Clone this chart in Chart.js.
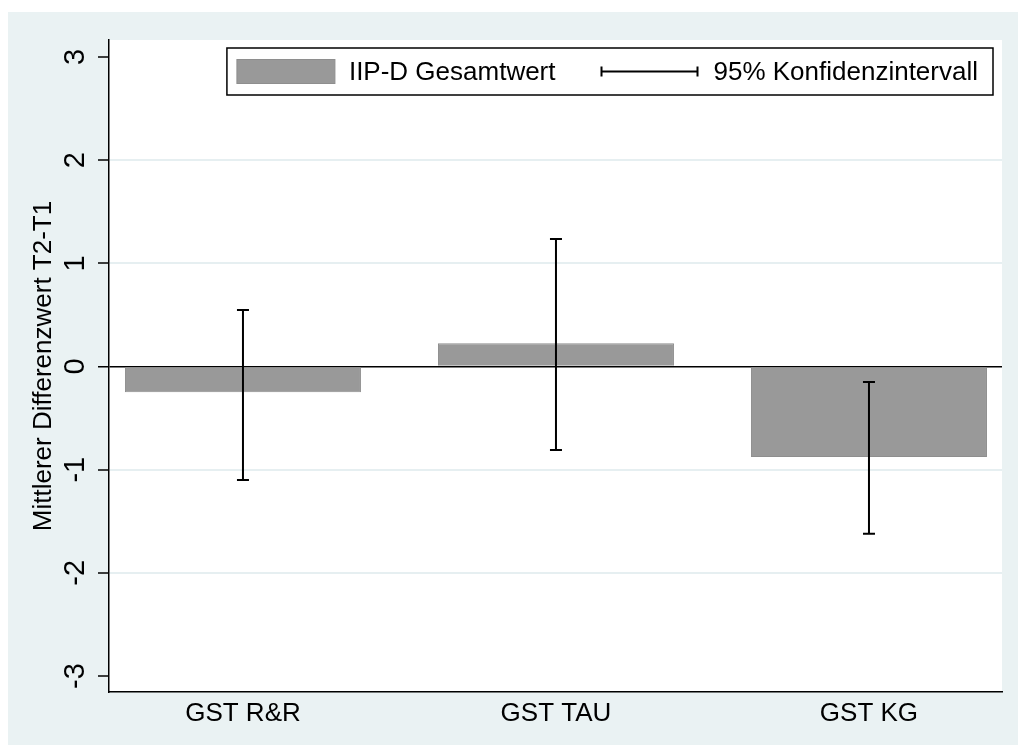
<!DOCTYPE html>
<html>
<head>
<meta charset="utf-8">
<script src="https://cdn.jsdelivr.net/npm/chart.js@4.4.1/dist/chart.umd.min.js"></script>
<style>
    html, body { margin: 0; padding: 0; background: #ffffff; }
    #wrap { position: absolute; left: 8px; top: 12px; width: 1010px; height: 733px; background: #eaf2f3; }
</style>
</head>
<body>
<div id="wrap"><canvas id="diffChart"></canvas></div>
<script>
// Mittlere Differenz T2-T1 je Gruppe, mit 95% KI
var categories = ['GST R&R', 'GST TAU', 'GST KG'];
var meanDiff = [-0.25, 0.225, -0.877];
var ciLower = [-1.10, -0.81, -1.62];
var ciUpper = [0.548, 1.236, -0.15];
var yTicks = [-3, -2, -1, 0, 1, 2, 3];

var barLabel = 'IIP-D Gesamtwert';
var ciLabel = '95% Konfidenzintervall';
var yTitle = 'Mittlerer Differenzwert T2-T1';

var fontFamily = "'Liberation Sans', Arial, sans-serif";
var fontSize = 26;
var barFill = '#999999';
var barEdge = '#8e8e8e';

// white plot region
var plotBackground = {
    id: 'plotBackground',
    beforeDraw: function (chart) {
        var a = chart.chartArea, ctx = chart.ctx;
        ctx.save();
        ctx.fillStyle = '#ffffff';
        ctx.fillRect(a.left, a.top, a.right - a.left, a.bottom - a.top);
        ctx.restore();
    }
};

// error bars + legend box
var ciBars = {
    id: 'ciBars',
    afterDatasetsDraw: function (chart) {
        var ctx = chart.ctx, xs = chart.scales.x, ys = chart.scales.y;
        ctx.save();
        ctx.strokeStyle = '#000000';
        ctx.lineWidth = 2;
        for (var i = 0; i < categories.length; i++) {
            var x = xs.getPixelForValue(i + 1);
            var y1 = ys.getPixelForValue(ciLower[i]);
            var y2 = ys.getPixelForValue(ciUpper[i]);
            ctx.beginPath();
            ctx.moveTo(x, y1); ctx.lineTo(x, y2);
            ctx.moveTo(x - 6, y1); ctx.lineTo(x + 6, y1);
            ctx.moveTo(x - 6, y2); ctx.lineTo(x + 6, y2);
            ctx.stroke();
        }
        ctx.restore();
    },
    afterDraw: function (chart) {
        var a = chart.chartArea, ctx = chart.ctx;
        ctx.save();
        ctx.font = fontSize + 'px ' + fontFamily;
        var w1 = ctx.measureText(barLabel).width;
        var w2 = ctx.measureText(ciLabel).width;
        var boxW = 10 + 98 + 14 + w1 + 46 + 96 + 16 + w2 + 15;
        var right = a.right - 9, top = a.top + 8, h = 47;
        var left = right - boxW;
        ctx.fillStyle = '#ffffff';
        ctx.fillRect(left, top, boxW, h);
        ctx.strokeStyle = '#000000';
        ctx.lineWidth = 1.5;
        ctx.strokeRect(left, top, boxW, h);
        var cy = top + h / 2;
        // bar swatch
        ctx.fillStyle = barFill;
        ctx.fillRect(left + 10, cy - 12, 98, 24);
        ctx.strokeStyle = barEdge;
        ctx.lineWidth = 1;
        ctx.strokeRect(left + 10, cy - 12, 98, 24);
        ctx.fillStyle = '#000000';
        ctx.textBaseline = 'middle';
        var tx = left + 10 + 98 + 14;
        ctx.fillText(barLabel, tx, cy + 1);
        // ci symbol
        var sx = tx + w1 + 46;
        ctx.strokeStyle = '#000000';
        ctx.lineWidth = 2;
        ctx.beginPath();
        ctx.moveTo(sx, cy); ctx.lineTo(sx + 96, cy);
        ctx.moveTo(sx, cy - 5); ctx.lineTo(sx, cy + 5);
        ctx.moveTo(sx + 96, cy - 5); ctx.lineTo(sx + 96, cy + 5);
        ctx.stroke();
        ctx.fillText(ciLabel, sx + 96 + 16, cy + 1);
        ctx.restore();
    }
};

var ctx = document.getElementById('diffChart').getContext('2d');
var diffChart = new Chart(ctx, {
    type: 'bar',
    data: {
        datasets: [{
            label: barLabel,
            data: meanDiff.map(function (v, i) { return { x: i + 1, y: v }; }),
            backgroundColor: barFill,
            borderColor: barEdge,
            borderWidth: 1,
            categoryPercentage: 1,
            barPercentage: 0.754
        }]
    },
    options: {
        responsive: true,
        maintainAspectRatio: false,
        animation: false,
        layout: { padding: { top: 28, right: 16, left: 0, bottom: 0 } },
        plugins: {
            legend: { display: false },
            tooltip: { enabled: false }
        },
        scales: {
            x: {
                type: 'linear',
                offset: false,
                min: 0.572,
                max: 3.425,
                afterBuildTicks: function (s) {
                    s.ticks = categories.map(function (c, i) { return { value: i + 1 }; });
                },
                afterFit: function (s) { s.height = 53; },
                ticks: {
                    color: '#000000',
                    padding: 6,
                    maxRotation: 0,
                    font: { family: fontFamily, size: fontSize },
                    callback: function (v) { return categories[v - 1]; }
                },
                grid: { color: 'rgba(0,0,0,0)', drawTicks: false },
                border: { display: true, color: '#000000', width: 1.5 }
            },
            y: {
                min: -3.155,
                max: 3.165,
                afterBuildTicks: function (s) {
                    s.ticks = yTicks.map(function (v) { return { value: v }; });
                },
                afterFit: function (s) { s.width = 101; },
                ticks: {
                    color: '#000000',
                    padding: 9,
                    minRotation: 90,
                    maxRotation: 90,
                    crossAlign: 'center',
                    font: { family: fontFamily, size: 29 }
                },
                grid: {
                    color: function (c) {
                        var v = c.tick ? c.tick.value : null;
                        if (v === 0) return '#000000';
                        if (v === 3 || v === -3) return 'rgba(0,0,0,0)';
                        return '#e6eff1';
                    },
                    lineWidth: function (c) { return c.tick && c.tick.value === 0 ? 1.5 : 2; },
                    tickColor: '#000000',
                    tickLength: 11,
                    tickWidth: 1.5
                },
                border: { display: true, color: '#000000', width: 1.5 },
                title: {
                    display: true,
                    text: yTitle,
                    color: '#000000',
                    padding: { top: 20, bottom: 0 },
                    font: { family: fontFamily, size: fontSize }
                }
            }
        }
    },
    plugins: [plotBackground, ciBars]
});
</script>
</body>
</html>
